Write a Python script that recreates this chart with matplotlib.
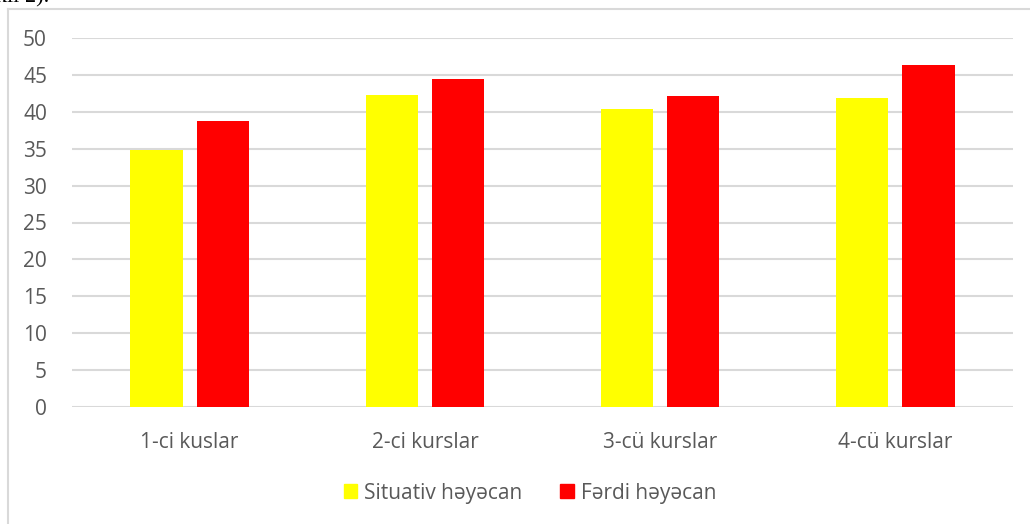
import numpy as np
import matplotlib
matplotlib.use("Agg")
import matplotlib.pyplot as plt
from matplotlib.patches import Patch

plt.rcParams["font.family"] = ["Open Sans", "DejaVu Sans"]

categories = ["1-ci kuslar", "2-ci kurslar", "3-cü kurslar", "4-cü kurslar"]
situativ = [34.8, 42.3, 40.4, 41.9]
ferdi = [38.7, 44.4, 42.1, 46.3]
series_names = ["Situativ həyəcan", "Fərdi həyəcan"]
yticks = [0, 5, 10, 15, 20, 25, 30, 35, 40, 45, 50]

W, H = 1030, 524
fig = plt.figure(figsize=(W / 100, H / 100), dpi=100)
ax = fig.add_axes([72 / W, 1 - 407 / H, (1013 - 72) / W, (407 - 38) / H])

x = np.arange(len(categories))
bw = 0.222
ax.bar(x - 0.141, situativ, bw, color="#ffff00", zorder=3)
ax.bar(x + 0.141, ferdi, bw, color="#ff0000", zorder=3)

ax.set_xlim(-0.5, len(categories) - 0.5)
ax.set_ylim(0, 50)
ax.set_yticks(yticks)
ax.set_xticks(x)
ax.set_xticklabels(categories)
ax.grid(axis="y", color="#d9d9d9", lw=1.5, zorder=0)
for s in ax.spines.values():
    s.set_visible(False)
ax.tick_params(length=0, labelsize=15, labelcolor="#595959")
ax.tick_params(axis="y", pad=18)
ax.tick_params(axis="x", pad=18)

handles = [Patch(color="#ffff00"), Patch(color="#ff0000")]
fig.legend(handles, series_names, loc="center", bbox_to_anchor=(530 / W, 1 - 493 / H),
           ncol=2, frameon=False, fontsize=15, labelcolor="#595959",
           handlelength=0.65, handleheight=0.65, handletextpad=0.35, columnspacing=1.8)

# chart frame (top and left edges)
fig.add_artist(plt.Line2D([8 / W, 1], [1 - 9 / H, 1 - 9 / H], color="#d9d9d9", lw=1.5))
fig.add_artist(plt.Line2D([8 / W, 8 / W], [0, 1 - 9 / H], color="#d9d9d9", lw=1.5))

# caption line above the chart, cut off at the top
fig.text(-4 / W, 1 + 2 / H, "kil 2).", family="Liberation Serif", fontsize=16,
         color="black", va="center", ha="left")

fig.savefig("out.png", dpi=100)
